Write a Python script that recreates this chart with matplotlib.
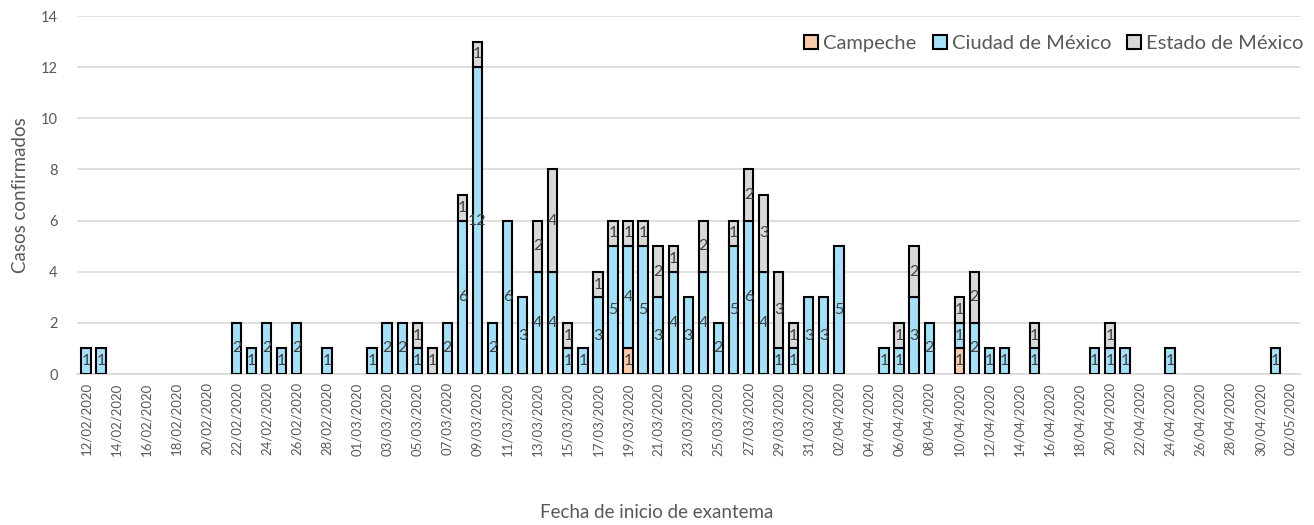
import matplotlib
matplotlib.use("Agg")
import matplotlib.pyplot as plt
import numpy as np
import datetime as dt

start = dt.date(2020, 2, 12)
n_days = 81
dates = [start + dt.timedelta(days=i) for i in range(n_days)]
date_labels = [d.strftime("%d/%m/%Y") for d in dates]

series_names = ["Campeche", "Ciudad de México", "Estado de México"]

# values by date label (missing = 0)
campeche_data = {"19/03/2020": 1, "10/04/2020": 1}
cdmx_data = {
    "12/02/2020": 1, "13/02/2020": 1, "22/02/2020": 2, "23/02/2020": 1, "24/02/2020": 2,
    "25/02/2020": 1, "26/02/2020": 2, "28/02/2020": 1, "02/03/2020": 1, "03/03/2020": 2,
    "04/03/2020": 2, "05/03/2020": 1, "07/03/2020": 2, "08/03/2020": 6, "09/03/2020": 12,
    "10/03/2020": 2, "11/03/2020": 6, "12/03/2020": 3, "13/03/2020": 4, "14/03/2020": 4,
    "15/03/2020": 1, "16/03/2020": 1, "17/03/2020": 3, "18/03/2020": 5, "19/03/2020": 4,
    "20/03/2020": 5, "21/03/2020": 3, "22/03/2020": 4, "23/03/2020": 3, "24/03/2020": 4,
    "25/03/2020": 2, "26/03/2020": 5, "27/03/2020": 6, "28/03/2020": 4, "29/03/2020": 1,
    "30/03/2020": 1, "31/03/2020": 3, "01/04/2020": 3, "02/04/2020": 5, "05/04/2020": 1,
    "06/04/2020": 1, "07/04/2020": 3, "08/04/2020": 2, "10/04/2020": 1, "11/04/2020": 2,
    "12/04/2020": 1, "13/04/2020": 1, "15/04/2020": 1, "19/04/2020": 1, "20/04/2020": 1,
    "21/04/2020": 1, "24/04/2020": 1, "01/05/2020": 1,
}
edomex_data = {
    "05/03/2020": 1, "06/03/2020": 1, "08/03/2020": 1, "09/03/2020": 1, "13/03/2020": 2,
    "14/03/2020": 4, "15/03/2020": 1, "17/03/2020": 1, "18/03/2020": 1, "19/03/2020": 1,
    "20/03/2020": 1, "21/03/2020": 2, "22/03/2020": 1, "24/03/2020": 2, "26/03/2020": 1,
    "27/03/2020": 2, "28/03/2020": 3, "29/03/2020": 3, "30/03/2020": 1, "06/04/2020": 1,
    "07/04/2020": 2, "10/04/2020": 1, "11/04/2020": 2, "15/04/2020": 1, "20/04/2020": 1,
}

colors = ["#F8CBAD", "#A5E0F8", "#D9D9D9"]

campeche = np.array([campeche_data.get(l, 0) for l in date_labels])
cdmx = np.array([cdmx_data.get(l, 0) for l in date_labels])
edomex = np.array([edomex_data.get(l, 0) for l in date_labels])

plt.rcParams['font.family'] = ['Lato', 'DejaVu Sans']

fig = plt.figure(figsize=(13.14, 5.25), dpi=100)
ax = fig.add_axes([0.0586, 0.2876, 0.9304, 0.6819])

x = np.arange(n_days)
bottom = np.zeros(n_days)
label_color = "#404040"
for name, vals, col in zip(series_names, [campeche, cdmx, edomex], colors):
    m = vals > 0
    ax.bar(x[m], vals[m], bottom=bottom[m], width=0.62, color=col, edgecolor="black",
           linewidth=1.5, label=name, zorder=3)
    for xi, v, b in zip(x[m], vals[m], bottom[m]):
        ax.text(xi, b + v / 2, str(v), ha="center", va="center", fontsize=11.5,
                color=label_color, zorder=4)
    bottom = bottom + vals

ax.set_xlim(-0.6, n_days - 0.4)
ax.set_ylim(0, 14)
ax.set_yticks(np.arange(0, 15, 2))
ax.yaxis.grid(True, color="#D9D9D9", linewidth=1.2, zorder=0)
ax.set_axisbelow(True)
for s in ["top", "right", "left"]:
    ax.spines[s].set_visible(False)
ax.spines["bottom"].set_color("#D9D9D9")
ax.spines["bottom"].set_linewidth(1.2)
ax.tick_params(axis="y", length=0, labelsize=10.5, labelcolor="#595959", pad=14)
ax.set_xticks(x[::2])
ax.set_xticklabels(date_labels[::2], rotation=90, fontsize=9.5, color="#595959")
ax.tick_params(axis="x", length=0, pad=6)

ax.set_ylabel("Casos confirmados", fontsize=13.5, color="#595959", labelpad=8)
fig.text(0.5, 1 - 512 / 525, "Fecha de inicio de exantema", fontsize=13.5,
         color="#595959", ha="center", va="center")

leg = ax.legend(loc="upper right", bbox_to_anchor=(1.01, 0.97), ncol=3, frameon=False,
                fontsize=14.5, handlelength=0.7, handleheight=0.7, handletextpad=0.25,
                columnspacing=0.8, borderaxespad=0)
for t in leg.get_texts():
    t.set_color("#595959")

fig.savefig("out.png", dpi=100)
